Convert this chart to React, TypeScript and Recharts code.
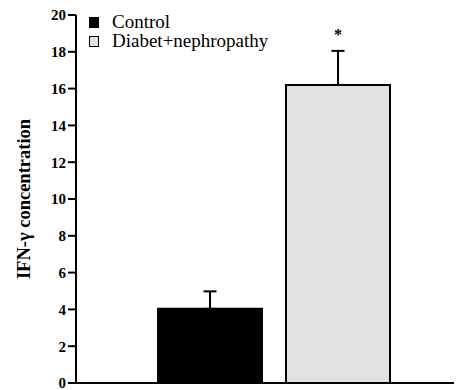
import { Bar, BarChart, ErrorBar, Legend, XAxis, YAxis } from "recharts";

const seriesNames = ["Control", "Diabet+nephropathy"];
const seriesKeys = ["control", "diabet"];
const means = [4.03, 16.2];
const sem = [0.95, 1.85];
const marks = ["", "*"];
const yTicks = [0, 2, 4, 6, 8, 10, 12, 14, 16, 18, 20];

const fills = ["#000000", "#e2e2e2"];
const font = "Liberation Serif";

const data = [
  {
    group: "IFN-γ",
    control: means[0],
    controlErr: [0, sem[0]],
    diabet: means[1],
    diabetErr: [0, sem[1]],
  },
];

function LegendBox() {
  return (
    <div style={{ fontFamily: font, fontSize: 19, color: "#000" }}>
      {seriesNames.map((name, i) => (
        <div
          key={name}
          style={{ height: 19, lineHeight: "19px", whiteSpace: "nowrap" }}
        >
          <span
            style={{
              display: "inline-block",
              boxSizing: "border-box",
              width: 10,
              height: 11,
              marginRight: 13,
              background: fills[i],
              border: "1.5px solid #000",
              verticalAlign: "baseline",
            }}
          />
          {name}
        </div>
      ))}
    </div>
  );
}

function markLabel(i: number) {
  return (p: any) => {
    if (!marks[i]) return null;
    const cx = p.x + p.width / 2;
    return (
      <text
        x={cx}
        y={p.y - 45}
        textAnchor="middle"
        fontFamily={font}
        fontSize={16}
        fontWeight="bold"
        fill="#000"
      >
        {marks[i]}
      </text>
    );
  };
}

export default function App() {
  return (
    <div style={{ fontFamily: font }}>
      <BarChart
        width={454}
        height={382}
        data={data}
        margin={{ top: 7, right: 0, bottom: 6, left: 8 }}
        barSize={104}
        barGap={24}
      >
        <XAxis
          dataKey="group"
          tick={false}
          tickLine={false}
          height={1}
          padding={{ left: 10, right: 0 }}
          axisLine={{ stroke: "#000", strokeWidth: 2 }}
        />
        <YAxis
          type="number"
          domain={[0, 20]}
          ticks={yTicks}
          interval={0}
          width={60}
          tickSize={8}
          axisLine={{ stroke: "#000", strokeWidth: 2 }}
          tickLine={{ stroke: "#000", strokeWidth: 2 }}
          tick={{ fill: "#000", fontSize: 15, fontWeight: "bold", fontFamily: font }}
          label={{
            content: ({ viewBox }: any) => {
              const cx = viewBox.x + 8;
              const cy = viewBox.y + viewBox.height / 2;
              return (
                <text
                  x={cx}
                  y={cy}
                  transform={`rotate(-90 ${cx} ${cy})`}
                  textAnchor="middle"
                  dominantBaseline="central"
                  fontFamily={font}
                  fontSize={18.5}
                  fontWeight="bold"
                  fill="#000"
                >
                  IFN-γ concentration
                </text>
              );
            },
          }}
        />
        <Legend
          layout="vertical"
          align="center"
          verticalAlign="middle"
          content={() => <LegendBox />}
          wrapperStyle={{ top: 4, left: 81, width: 230, height: 40 }}
        />
        {seriesKeys.map((k, i) => (
          <Bar
            key={k}
            dataKey={k}
            name={seriesNames[i]}
            fill={fills[i]}
            stroke="#000"
            strokeWidth={2}
            isAnimationActive={false}
            label={markLabel(i)}
          >
            <ErrorBar
              dataKey={k + "Err"}
              width={6.5}
              stroke="#000"
              strokeWidth={2}
              isAnimationActive={false}
            />
          </Bar>
        ))}
      </BarChart>
    </div>
  );
}
